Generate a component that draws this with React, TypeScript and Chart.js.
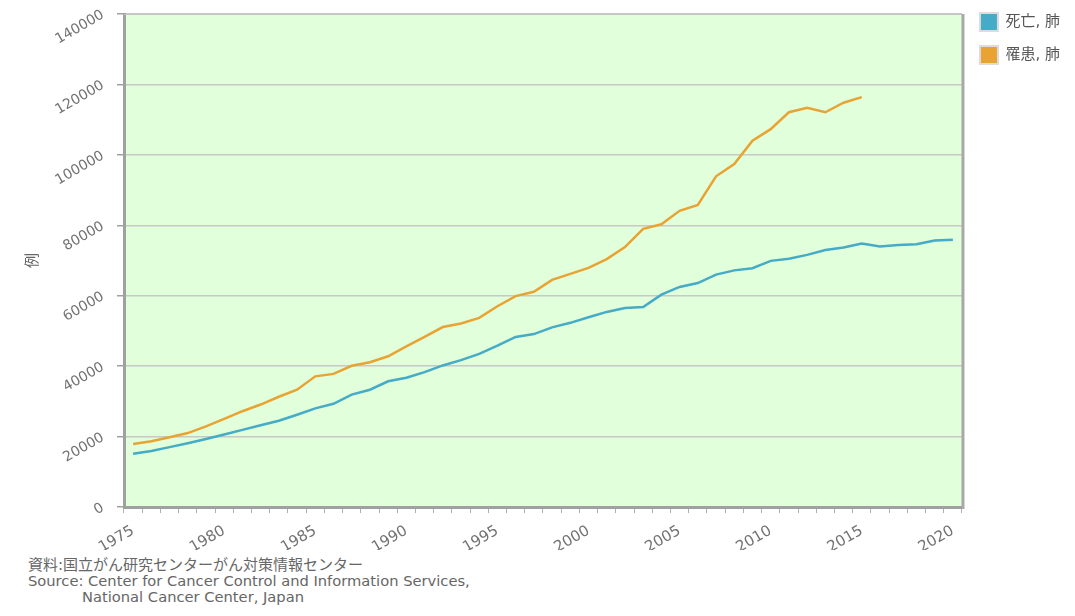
import React, { useEffect, useRef } from 'react';
import { Chart, registerables } from 'chart.js';

Chart.register(...registerables);

const years = [
  '1975', '1976', '1977', '1978', '1979', '1980', '1981', '1982', '1983', '1984',
  '1985', '1986', '1987', '1988', '1989', '1990', '1991', '1992', '1993', '1994',
  '1995', '1996', '1997', '1998', '1999', '2000', '2001', '2002', '2003', '2004',
  '2005', '2006', '2007', '2008', '2009', '2010', '2011', '2012', '2013', '2014',
  '2015', '2016', '2017', '2018', '2019', '2020',
];

const labeledYears = ['1975', '1980', '1985', '1990', '1995', '2000', '2005', '2010', '2015', '2020'];

const deaths = [
  15100, 15900, 17000, 18100, 19300, 20600, 21900, 23200, 24500, 26200,
  28000, 29300, 31900, 33300, 35700, 36700, 38300, 40200, 41700, 43500,
  45800, 48300, 49100, 51000, 52300, 53900, 55400, 56500, 56800, 60300,
  62500, 63600, 66000, 67200, 67800, 69900, 70500, 71600, 73000, 73700,
  74800, 74000, 74400, 74600, 75700, 75900,
];

const incidence = [
  17900, 18700, 19800, 21000, 22900, 25000, 27200, 29100, 31300, 33300,
  37100, 37800, 40100, 41100, 42800, 45600, 48300, 51100, 52100, 53700,
  57000, 59900, 61100, 64500, 66200, 67900, 70400, 73800, 79000, 80300,
  84100, 85800, 93900, 97400, 104000, 107300, 112100, 113400, 112100, 114800,
  116400, null, null, null, null, null,
];

const seriesNames = ['死亡, 肺', '罹患, 肺'];
const yAxisTitle = '例';
const sourceLines = [
  '資料:国立がん研究センターがん対策情報センター',
  'Source: Center for Cancer Control and Information Services,',
  'National Cancer Center, Japan',
];

const FONT = "'DejaVu Sans', 'Noto Sans CJK JP', sans-serif";
const TEAL = '#45abc6';
const ORANGE = '#e9a333';

const plotFrame = {
  id: 'plotFrame',
  afterLayout(chart: any) {
    const lg = chart.legend;
    if (lg) {
      lg.top -= 16;
      lg.bottom -= 16;
      lg.left += 3;
      lg.right += 3;
    }
  },
  beforeDraw(chart: any) {
    const { ctx, chartArea } = chart;
    ctx.save();
    ctx.fillStyle = '#e0ffda';
    ctx.fillRect(chartArea.left, chartArea.top, chartArea.right - chartArea.left, chartArea.bottom - chartArea.top);
    ctx.restore();
  },
  afterDraw(chart: any) {
    const { ctx, chartArea } = chart;
    ctx.save();
    ctx.strokeStyle = '#c4c4c4';
    ctx.lineWidth = 1;
    ctx.beginPath();
    ctx.moveTo(chartArea.left, chartArea.top + 0.5);
    ctx.lineTo(chartArea.right, chartArea.top + 0.5);
    ctx.stroke();
    ctx.strokeStyle = '#a8a8a8';
    ctx.lineWidth = 3;
    ctx.beginPath();
    ctx.moveTo(chartArea.right + 1, chartArea.top);
    ctx.lineTo(chartArea.right + 1, chartArea.bottom + 2);
    ctx.stroke();
    ctx.restore();
  },
};

export default function App() {
  const canvasRef = useRef<HTMLCanvasElement | null>(null);

  useEffect(() => {
    const canvas = canvasRef.current;
    if (!canvas) return;
    const chart = new Chart(canvas, {
      type: 'line',
      data: {
        labels: years,
        datasets: [
          {
            label: seriesNames[0],
            data: deaths,
            borderColor: TEAL,
            backgroundColor: TEAL,
            borderWidth: 2.5,
            pointRadius: 0,
            tension: 0,
          },
          {
            label: seriesNames[1],
            data: incidence,
            borderColor: ORANGE,
            backgroundColor: ORANGE,
            borderWidth: 2.5,
            pointRadius: 0,
            tension: 0,
            spanGaps: false,
          },
        ],
      },
      options: {
        animation: false,
        responsive: false,
        maintainAspectRatio: false,
        layout: { padding: { top: 14, right: 8, left: 0, bottom: 0 } },
        plugins: {
          tooltip: { enabled: false },
          legend: {
            position: 'right',
            align: 'start',
            labels: {
              boxWidth: 18,
              boxHeight: 18,
              padding: 15,
              color: '#555',
              font: { family: FONT, size: 15 },
              generateLabels: (c: any) =>
                c.data.datasets.map((ds: any, i: number) => ({
                  text: ds.label,
                  fillStyle: ds.borderColor,
                  strokeStyle: '#dcdcdc',
                  lineWidth: 2,
                  hidden: false,
                  datasetIndex: i,
                  fontColor: '#555',
                })),
            },
          },
        },
        scales: {
          x: {
            type: 'category',
            offset: true,
            grid: {
              offset: true,
              drawOnChartArea: false,
              drawTicks: true,
              tickLength: 6,
              tickColor: '#b0b0b0',
              lineWidth: 1,
            },
            border: { display: true, color: '#a0a0a0', width: 3 },
            ticks: {
              autoSkip: false,
              minRotation: 30,
              maxRotation: 30,
              padding: 9,
              color: '#727272',
              font: { family: FONT, size: 15 },
              callback: function (this: any, value: any) {
                const lab = this.getLabelForValue(value);
                return labeledYears.includes(lab) ? lab : '';
              },
            },
            afterFit: (scale: any) => {
              scale.height = 43;
              scale.paddingLeft = 0;
              scale.paddingRight = 0;
            },
          },
          y: {
            min: 0,
            max: 140000,
            grid: {
              color: '#c8c8c8',
              lineWidth: 1.5,
              drawTicks: true,
              tickLength: 7,
              tickColor: '#a0a0a0',
            },
            border: { display: true, color: '#a0a0a0', width: 3 },
            title: {
              display: true,
              text: yAxisTitle,
              color: '#666',
              font: { family: FONT, size: 15 },
              padding: { top: 24, bottom: 0 },
            },
            ticks: {
              stepSize: 20000,
              minRotation: 30,
              maxRotation: 30,
              padding: 14,
              color: '#727272',
              font: { family: FONT, size: 14 },
              callback: (value: any) => String(value),
            },
            afterFit: (scale: any) => {
              scale.width = 124;
              scale.paddingTop = 0;
              scale.paddingBottom = 0;
            },
          },
        },
      },
      plugins: [plotFrame],
    });
    return () => chart.destroy();
  }, []);

  return (
    <div style={{ position: 'fixed', left: 0, top: 0, width: 1075, height: 616, background: '#fff' }}>
      <canvas ref={canvasRef} width={1075} height={550} style={{ display: 'block', width: 1075, height: 550 }} />
      <div
        style={{
          position: 'absolute',
          left: 28,
          top: 557,
          fontFamily: FONT,
          color: '#666',
          fontSize: 14.7,
          lineHeight: '16px',
          whiteSpace: 'pre',
        }}
      >
        <div style={{ fontSize: 15 }}>{sourceLines[0]}</div>
        <div>{sourceLines[1]}</div>
        <div style={{ paddingLeft: 54 }}>{sourceLines[2]}</div>
      </div>
    </div>
  );
}
